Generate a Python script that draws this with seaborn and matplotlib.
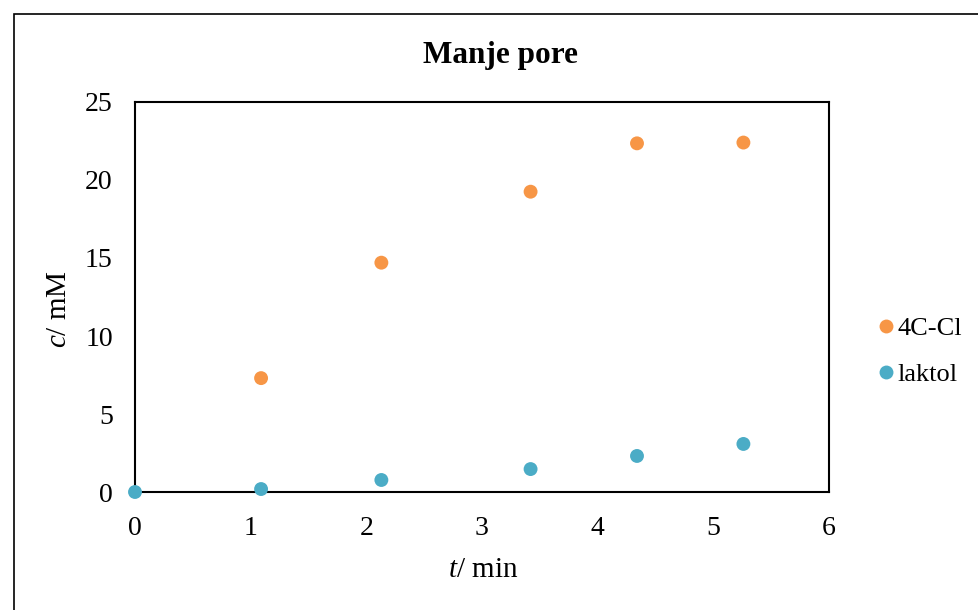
import matplotlib
matplotlib.use("Agg")
import matplotlib.pyplot as plt
import seaborn as sns
import pandas as pd
from matplotlib.patches import Rectangle

t_min = [0, 1.09, 2.13, 3.42, 4.34, 5.26]
c_4ccl = [None, 7.3, 14.7, 19.25, 22.35, 22.4]
c_laktol = [0, 0.19, 0.77, 1.47, 2.31, 3.08]

df = pd.concat([
    pd.DataFrame({"t": t_min, "c": c_4ccl, "serija": "4C-Cl"}),
    pd.DataFrame({"t": t_min, "c": c_laktol, "serija": "laktol"}),
]).dropna()

sns.set_style("white")
plt.rcParams["font.family"] = ["Liberation Serif", "DejaVu Serif"]
plt.rcParams["text.color"] = "black"
plt.rcParams["xtick.color"] = "black"
plt.rcParams["ytick.color"] = "black"
plt.rcParams["axes.labelcolor"] = "black"
plt.rcParams["mathtext.fontset"] = "custom"
plt.rcParams["mathtext.rm"] = "Liberation Serif"
plt.rcParams["mathtext.it"] = "Liberation Serif:italic"

fig = plt.figure(figsize=(9.79, 6.10), dpi=100)
ax = fig.add_axes([135 / 979, 118 / 610, 694 / 979, 390 / 610])

sns.scatterplot(data=df, x="t", y="c", hue="serija",
                palette={"4C-Cl": "#F79646", "laktol": "#4BACC6"},
                s=100, linewidth=0, ax=ax, clip_on=False, zorder=3)

ax.set_xlim(0, 6)
ax.set_ylim(0, 25)
ax.set_xticks(range(0, 7))
ax.set_yticks(range(0, 26, 5))
ax.tick_params(axis="x", labelsize=20, length=0, pad=17)
ax.tick_params(axis="y", labelsize=20, length=0, pad=16)
for s in ax.spines.values():
    s.set_color("black")
    s.set_linewidth(1.5)

ax.set_xlabel("$\\it{t}$/ min", fontsize=21)
ax.set_ylabel("$\\it{c}$/ mM", fontsize=21)
ax.xaxis.set_label_coords((483 - 135) / 694, -(570 - 492) / 390)
ax.yaxis.set_label_coords(-(135 - 59) / 694, (492 - 309) / 390)
ax.xaxis.label.set_va("center")
ax.yaxis.label.set_va("center")
fig.text(500 / 979, 1 - 56 / 610, "Manje pore", fontsize=22.5,
         fontweight="bold", ha="center", va="center")

ax.legend(loc="center left", bbox_to_anchor=(1.025, 0.36), frameon=False,
          fontsize=19, handletextpad=-0.55, markerscale=1.0, labelspacing=0.85,
          borderpad=0)

fig.patches.append(Rectangle((14 / 979, -0.1), 1.1, 1 - 14 / 610 + 0.1,
                             transform=fig.transFigure, fill=False,
                             edgecolor="black", linewidth=1.2))

fig.savefig("out.png", dpi=100)
